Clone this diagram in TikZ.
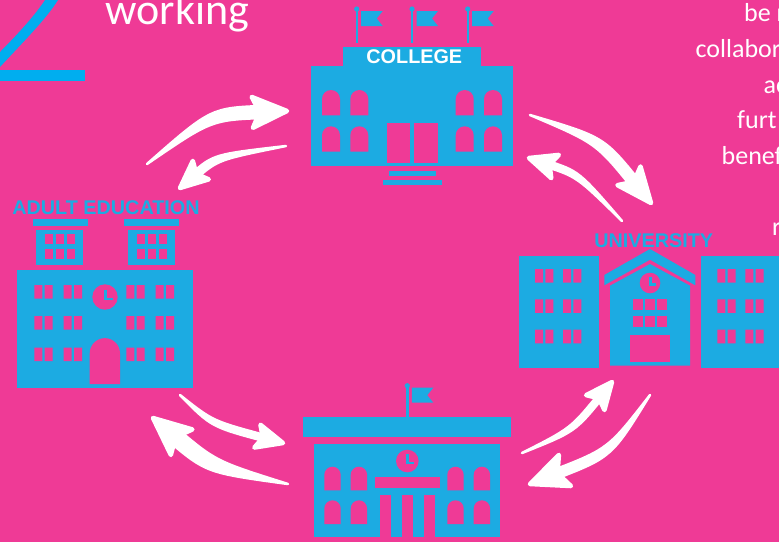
\documentclass[tikz,border=0pt]{standalone}
\usepackage{fontspec}
\usepackage{xcolor}
\usetikzlibrary{calc}
\setmainfont{Carlito}
\newfontfamily\labelfont{Liberation Sans}[BoldFont={Liberation Sans Bold}]
\definecolor{bgpink}{HTML}{EF3A96}
\definecolor{bldgblue}{HTML}{1CABE2}
\definecolor{cornerblue}{HTML}{00AEEF}

\tikzset{
  bldg/.style={fill=bldgblue},
  cut/.style={fill=bgpink},
  sign/.style={font=\labelfont\bfseries\fontsize{19.8}{20}\selectfont,inner sep=0pt},
  bodytext/.style={text=white,anchor=base west,inner sep=0pt,font=\fontsize{26}{30}\selectfont},
  flow/.style={fill=white,draw=white,line join=round,line width=4.5pt},
  flowshaft/.style={fill=white,draw=white,line join=round,line width=2.5pt}
}
% arch topped window: left, top, width, height
\newcommand{\archwin}[4]{\fill[cut] (#1,#2+#4) -- (#1,#2+#3/2) arc[start angle=180,end angle=360,radius=#3/2] -- (#1+#3,#2+#4) -- cycle;}
% two panes side by side
\newcommand{\panes}[4]{\fill[cut] (#1,#2) rectangle ++(#3,#4) ++(2.4,-#4) rectangle ++(#3,#4);}
% pole with flag: x, top y, pole length
\newcommand{\flagpole}[3]{
  \begin{scope}[shift={(#1,#2)}]
    \draw[bldgblue,line width=2.4pt] (0,0) -- (0,#3);
    \fill[bldg] (0,0) circle[radius=2.6];
    \fill[bldg] (4.5,2) -- (26,2) -- (20,9.5) -- (26,17) -- (4.5,17) -- cycle;
  \end{scope}}
\newcommand{\clockface}[3]{
  \begin{scope}[shift={(#1,#2)},scale=#3/12.7]
    \fill[cut] (0,0) circle[radius=12.7];
    \draw[bldgblue,line width=2.5pt] (0.3,-7.5) -- (0.3,2) -- (7.7,2);
  \end{scope}}
% tail, control, tip, head length, half angle, half width of shaft
\newcommand{\flowarrow}[6]{
  \coordinate (neck) at ($(#3)!0.6*#4!(#2)$);
  \filldraw[flowshaft] (#1) .. controls ($(#2)!#6!90:(neck)$) .. ($(neck)!#6!-90:(#2)$)
    -- ($(neck)!#6!90:(#2)$) .. controls ($(#2)!#6!-90:(neck)$) .. (#1) -- cycle;
  \filldraw[flow] (#3) -- ($(#3)!#4!#5:(#2)$) -- ($(#3)!0.72*#4!(#2)$) -- ($(#3)!#4!-#5:(#2)$) -- cycle;
}

\begin{document}
\begin{tikzpicture}[x=1pt,y=-1pt]
  \clip (0,0) rectangle (779,542);
  \fill[bgpink] (0,0) rectangle (779,542);

  % corner mark and cut off text
  \fill[cornerblue] (45,0) -- (58,0) .. controls (47,18) and (25,40) .. (0,67) -- (0,52) .. controls (18,34) and (36,14) .. cycle;
  \fill[cornerblue] (0,70) rectangle (85,80.7);
  \node[text=white,anchor=base west,inner sep=0pt,font=\fontsize{44}{50}\selectfont] (working) at (105.5,24) {working};
  \node[bodytext] (line1) at (744,21.5) {be r};
  \node[bodytext] (line2) at (695.5,57.5) {collabor};
  \node[bodytext] (line3) at (763.5,93) {ac};
  \node[bodytext] (line4) at (737,128.5) {furt};
  \node[bodytext] (line5) at (721.5,164) {benef};
  \node[bodytext] (line6) at (772,235) {r};

  % college
  \foreach \x in {356.7,412,467.7}{
    \flagpole{\x}{9}{34}
  }
  \fill[bldg] (343.3,47) rectangle (481,66);
  \fill[bldg] (311,65.7) rectangle (513,166);
  \foreach \x in {322,350.3,455.7,484}{
    \foreach \y in {90,126.3}{
      \archwin{\x}{\y}{18}{25.3}
    }
  }
  \fill[cut] (386.7,122.7) rectangle (410.3,163);
  \fill[cut] (414,122.7) rectangle (437.7,163);
  \fill[bldg] (389,171.3) rectangle (436,175.7);
  \fill[bldg] (383,180) rectangle (442,185);
  \node[sign,text=white] (college) at (414.3,56.7) {COLLEGE};

  % adult education
  \foreach \x/\xx in {33/36,124.3/128}{
    \fill[bldg] (\x,218.7) rectangle ++(54.5,7);
    \fill[bldg] (\xx,229.7) rectangle ++(47.3,35);
    \foreach \i in {0,1,2}{
      \foreach \y in {234,249.3}{
        \fill[cut] (\xx+9+\i*11,\y) rectangle ++(8,10);
      }
    }
  }
  \fill[bldg] (17.3,270) rectangle (193,387.7);
  \foreach \x in {34.3,63.7,126.3,155.7}{
    \foreach \y in {285,316,347.7}{
      \panes{\x}{\y}{8}{13.5}
    }
  }
  \clockface{105}{297}{12.7}
  \fill[cut] (89.7,384) -- (89.7,353.3) arc[start angle=180,end angle=360,radius=15.15] -- (120,384) -- cycle;
  \node[sign,text=bldgblue] (adult) at (106,208) {ADULT EDUCATION};

  % university
  \fill[bldg] (518.7,255.7) rectangle (598.7,367.7);
  \fill[bldg] (701.3,255.7) rectangle (785,367.7);
  \foreach \x in {535,563,717.3,745.3}{
    \foreach \y in {269,299.3,329.7}{
      \panes{\x}{\y}{8}{13.6}
    }
  }
  \fill[bldg] (610,365.7) -- (610,285.7) -- (650,264) -- (690,285.7) -- (690,365.7) -- cycle;
  \fill[bldg] (650,249) -- (695.3,275) -- (695.3,285.3) -- (650,259.7) -- (604.3,285.3) -- (604.3,275) -- cycle;
  \clockface{650}{283}{10.3}
  \foreach \x in {633.3,645.3,657.3}{
    \foreach \y in {299.3,316}{
      \fill[cut] (\x,\y) rectangle ++(10,10.8);
    }
  }
  \fill[cut] (630,335.3) rectangle (670,362);
  \node[sign,text=bldgblue] (university) at (653.7,240.7) {UNIVERSITY};

  % school
  \flagpole{407.3}{385.7}{31.5}
  \fill[bldg] (303,417) rectangle (511,437);
  \fill[bldg] (314.3,444.3) rectangle (500.3,537);
  \clockface{407.3}{461}{11.3}
  \fill[cut] (374.7,477.3) rectangle (440.3,487.7);
  \foreach \x in {380.3,402.3,424.3}{
    \fill[cut] (\x,495) rectangle ++(10.2,42);
  }
  \foreach \x in {324.3,350.7,447.3,473.7}{
    \foreach \y in {466.7,500.3}{
      \archwin{\x}{\y}{16.4}{23.7}
    }
  }

  % arrows
  \coordinate (collegeOut) at (530,115);
  \coordinate (collegeBend) at (600,140);
  \coordinate (uniIn) at (651,203);
  \flowarrow{collegeOut}{collegeBend}{uniIn}{38pt}{23}{5pt}

  \coordinate (uniOut) at (622,221);
  \coordinate (uniBend) at (578,174);
  \coordinate (collegeIn) at (529,158);
  \flowarrow{uniOut}{uniBend}{collegeIn}{30pt}{24}{3pt}

  \coordinate (adultOut) at (147,164);
  \coordinate (adultBend) at (211,114);
  \coordinate (collegeInTwo) at (287,111);
  \flowarrow{adultOut}{adultBend}{collegeInTwo}{38pt}{24}{6pt}

  \coordinate (collegeOutTwo) at (286,146);
  \coordinate (collegeBendTwo) at (216,157);
  \coordinate (adultIn) at (180,188);
  \flowarrow{collegeOutTwo}{collegeBendTwo}{adultIn}{30pt}{24}{3.5pt}

  \coordinate (adultOutTwo) at (180,395);
  \coordinate (adultBendTwo) at (212,424);
  \coordinate (schoolIn) at (283,443);
  \flowarrow{adultOutTwo}{adultBendTwo}{schoolIn}{29pt}{24}{3pt}

  \coordinate (schoolOut) at (288,484);
  \coordinate (schoolBend) at (211,467);
  \coordinate (adultInTwo) at (153,418);
  \flowarrow{schoolOut}{schoolBend}{adultInTwo}{41pt}{24}{7.5pt}

  \coordinate (schoolOutTwo) at (522,453);
  \coordinate (schoolBendTwo) at (573,430);
  \coordinate (uniInTwo) at (612,382);
  \flowarrow{schoolOutTwo}{schoolBendTwo}{uniInTwo}{29pt}{24}{2.8pt}

  \coordinate (uniOutTwo) at (650,395);
  \coordinate (uniBendTwo) at (610,453);
  \coordinate (schoolInTwo) at (530,484);
  \flowarrow{uniOutTwo}{uniBendTwo}{schoolInTwo}{41pt}{24}{4.5pt}
\end{tikzpicture}
\end{document}
